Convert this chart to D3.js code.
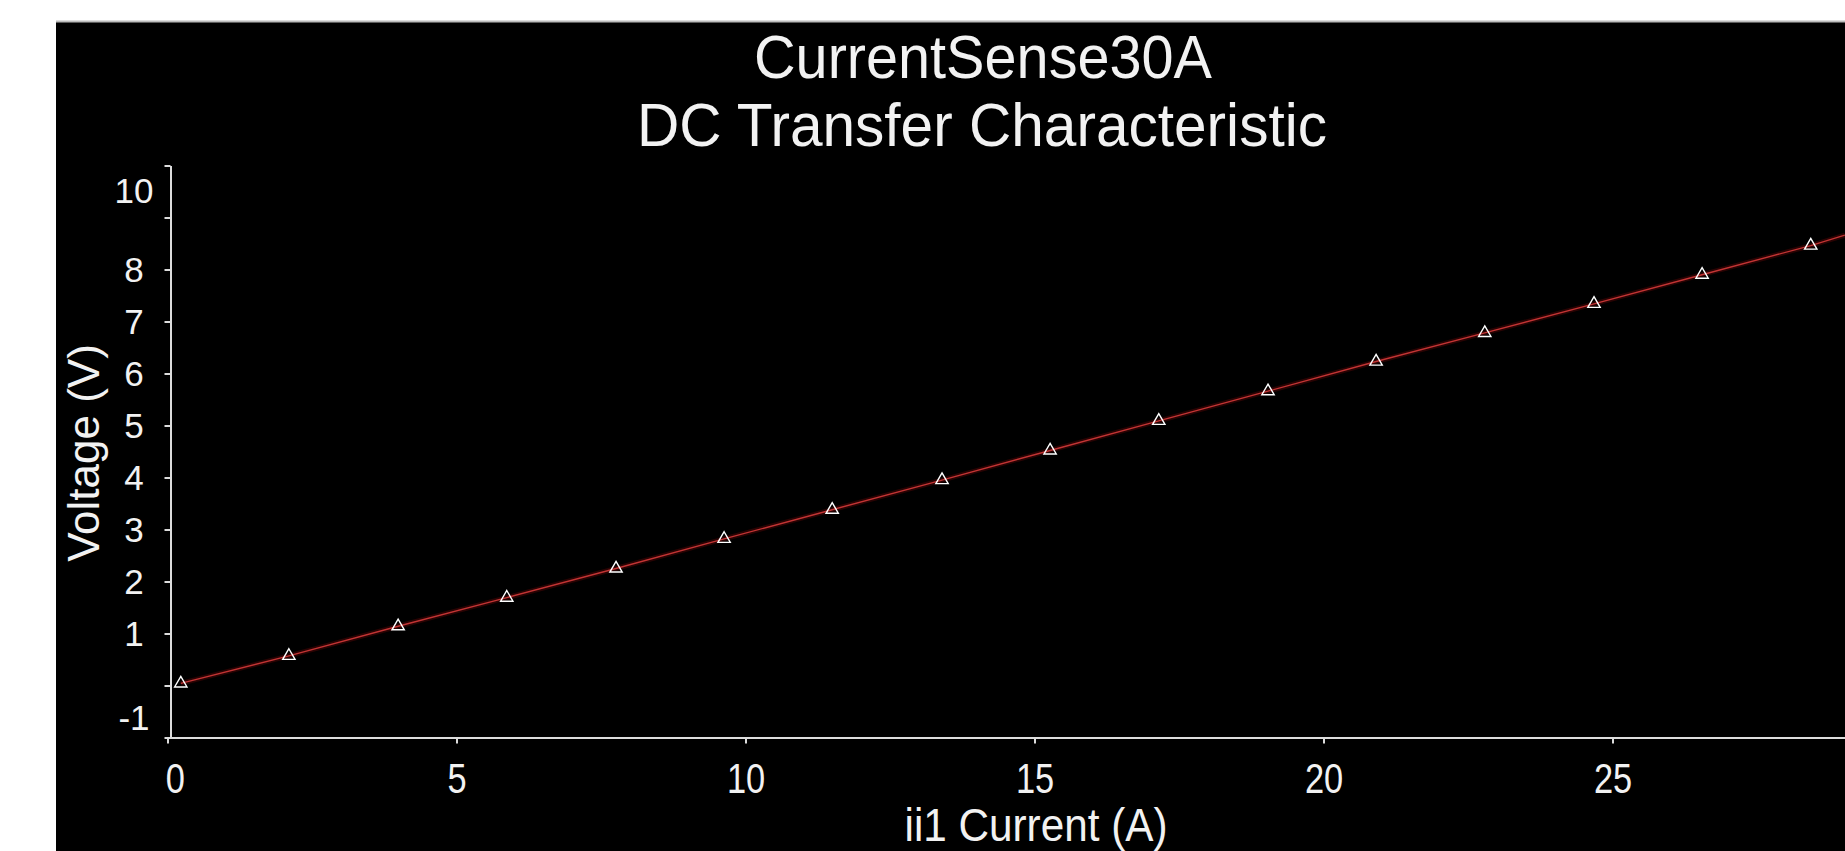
<!DOCTYPE html>
<html>
<head>
<meta charset="utf-8">
<script src="https://cdn.jsdelivr.net/npm/d3@7"></script>
<style>
  html, body { margin: 0; padding: 0; background: #ffffff; overflow: hidden; }
  svg { display: block; }
  text { font-family: "Liberation Sans", Arial, sans-serif; fill: #f2f2f2; }
</style>
</head>
<body>
<script>
// Swept source current (A) at each plotted marker, and the sensed output voltage (V)
const currentA = [0.23, 2.10, 3.99, 5.87, 7.76, 9.63, 11.50, 13.40, 15.27, 17.15, 19.04, 20.91, 22.79, 24.68, 26.55, 28.43];
const voltageV = [0.04, 0.57, 1.14, 1.69, 2.25, 2.82, 3.38, 3.95, 4.52, 5.09, 5.66, 6.23, 6.78, 7.34, 7.90, 8.46];
// The simulated trace continues past the last marker
const traceTailA = [29.02];
const traceTailV = [8.66];

const xTicks = [0, 5, 10, 15, 20, 25];
const yTicks = [-1, 0, 1, 2, 3, 4, 5, 6, 7, 8, 9, 10];
const yTickLabels = ["-1", "", "1", "2", "3", "4", "5", "6", "7", "8", "", "10"];

const titleLines = ["CurrentSense30A", "DC Transfer Characteristic"];
const xTitle = "ii1 Current (A)";
const yTitle = "Voltage (V)";

const W = 1845, H = 851;
const svg = d3.select("body").append("svg").attr("width", W).attr("height", H);

// Plot window: black panel with a thin grey top edge
svg.append("rect").attr("x", 0).attr("y", 0).attr("width", W).attr("height", H).attr("fill", "#ffffff");
svg.append("rect").attr("x", 56).attr("y", 22).attr("width", W - 56).attr("height", H - 22).attr("fill", "#000000");
svg.append("line").attr("x1", 56).attr("x2", W).attr("y1", 21.5).attr("y2", 21.5)
  .attr("stroke", "#bcbcbc").attr("stroke-width", 2);

const x = d3.scaleLinear().domain([0, 30]).range([167.5, 167.5 + 30 * 57.8]);
const y = d3.scaleLinear().domain([-1, 10]).range([737.5, 165.5]);

const axisColor = "#dcdcdc";

// X axis
const gx = svg.append("g").attr("transform", `translate(0,${y(-1)})`)
  .call(d3.axisBottom(x).tickValues(xTicks).tickSize(6).tickSizeOuter(0).tickPadding(19).tickFormat(d3.format("d")));
gx.select(".domain").attr("stroke", axisColor).attr("stroke-width", 2);
gx.selectAll(".tick line").attr("stroke", axisColor).attr("stroke-width", 2);
gx.selectAll(".tick text").attr("fill", "#f2f2f2").attr("font-size", 43)
  .attr("font-family", "Liberation Sans, Arial, sans-serif")
  .attr("x", d => d === 0 ? 9 : 0)
  .attr("transform", "scale(0.8,1)");

// Y axis
const yAxisX = 170.5;
const gy = svg.append("g").attr("transform", `translate(${yAxisX},0)`)
  .call(d3.axisLeft(y).tickValues(yTicks).tickSize(6).tickSizeOuter(0)
    .tickFormat((d, i) => yTickLabels[i]));
gy.select(".domain").attr("stroke", axisColor).attr("stroke-width", 2);
gy.selectAll(".tick line").attr("stroke", axisColor).attr("stroke-width", 2);
gy.selectAll(".tick text").attr("fill", "#f2f2f2").attr("font-size", 35)
  .attr("font-family", "Liberation Sans, Arial, sans-serif")
  .attr("text-anchor", "middle").attr("x", -36.5)
  .attr("dy", "0.35em")
  .attr("y", d => d === 10 ? 25 : d === -1 ? -20 : 0);

// Trace: faint halo under a thin red line
const traceA = currentA.concat(traceTailA);
const traceV = voltageV.concat(traceTailV);
const lineGen = d3.line().x((d, i) => x(traceA[i])).y((d, i) => y(traceV[i]));
svg.append("path").datum(traceA).attr("d", lineGen)
  .attr("fill", "none").attr("stroke", "#5a0606").attr("stroke-width", 5).attr("stroke-opacity", 0.45);
svg.append("path").datum(traceA).attr("d", lineGen)
  .attr("fill", "none").attr("stroke", "#c23434").attr("stroke-width", 1.4);

// Open triangle markers
const tri = d3.symbol().type(d3.symbolTriangle).size(66);
svg.append("g").selectAll("path").data(currentA).join("path")
  .attr("d", tri)
  .attr("transform", (d, i) => `translate(${x(d)},${y(voltageV[i])})`)
  .attr("fill", "none").attr("stroke", "#ffffff").attr("stroke-width", 1.4);

// Titles
svg.append("text").attr("x", 983).attr("y", 78).attr("text-anchor", "middle")
  .attr("font-size", 61).attr("textLength", 458).attr("lengthAdjust", "spacingAndGlyphs")
  .text(titleLines[0]);
svg.append("text").attr("x", 982).attr("y", 146).attr("text-anchor", "middle")
  .attr("font-size", 61).attr("textLength", 690).attr("lengthAdjust", "spacingAndGlyphs")
  .text(titleLines[1]);

// Axis titles
svg.append("text").attr("x", 1036).attr("y", 841).attr("text-anchor", "middle")
  .attr("font-size", 46).attr("textLength", 263).attr("lengthAdjust", "spacingAndGlyphs")
  .text(xTitle);
svg.append("text").attr("transform", "translate(99,453) rotate(-90)").attr("text-anchor", "middle")
  .attr("font-size", 44)
  .text(yTitle);
</script>
</body>
</html>
